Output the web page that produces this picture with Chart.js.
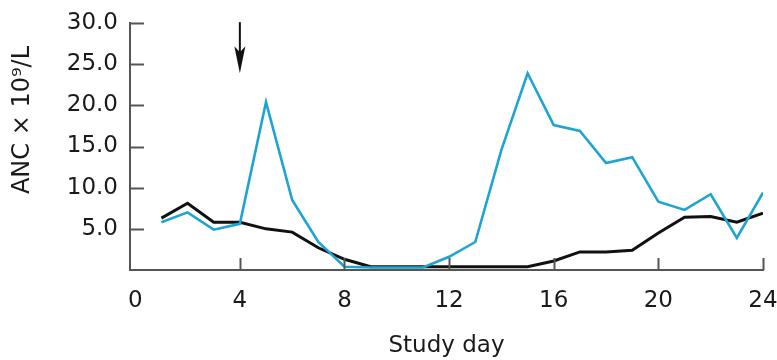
<!DOCTYPE html>
<html>
<head>
<meta charset="utf-8">
<script src="https://cdn.jsdelivr.net/npm/chart.js@4.4.1/dist/chart.umd.min.js"></script>
<style>
  html, body { margin: 0; padding: 0; background: #fff; overflow: hidden; }
  canvas { display: block; }
</style>
</head>
<body>
<canvas id="ancChart" width="777" height="360"></canvas>
<script>
// Study days and ANC values (x 10^9/L)
const days = [1, 2, 3, 4, 5, 6, 7, 8, 9, 10, 11, 12, 13, 14, 15, 16, 17, 18, 19, 20, 21, 22, 23, 24];
const blueAnc = [5.8, 7.0, 4.9, 5.6, 20.4, 8.5, 3.4, 0.4, 0.3, 0.3, 0.3, 1.6, 3.4, 14.6, 23.9, 17.6, 16.9, 13.0, 13.7, 8.3, 7.3, 9.2, 3.9, 9.4];
const blackAnc = [6.3, 8.1, 5.8, 5.8, 5.0, 4.6, 2.7, 1.3, 0.4, 0.4, 0.4, 0.4, 0.4, 0.4, 0.4, 1.1, 2.2, 2.2, 2.4, 4.5, 6.4, 6.5, 5.8, 6.9];

const xTicks = [0, 4, 8, 12, 16, 20, 24];
const yTicks = [5, 10, 15, 20, 25, 30];

// arrow marking day 4
const arrowDay = 4;
const arrowFrom = 30.1;
const arrowTo = 23.9;

const FONT = "'DejaVu Sans', 'Liberation Sans', Arial, sans-serif";
const INK = '#1a1a1a';
const AXIS = '#555';

const toPoints = vals => vals.map((v, i) => ({ x: days[i], y: v }));

// inward tick marks, arrow and rotated y title
const extras = {
    id: 'extras',
    afterDraw(chart) {
        const { ctx, chartArea: a, scales: { x, y } } = chart;
        ctx.save();
        ctx.strokeStyle = AXIS;
        ctx.lineWidth = 2;
        yTicks.forEach(v => {
            const py = Math.round(y.getPixelForValue(v)) + 0.5;
            ctx.beginPath();
            ctx.moveTo(a.left, py);
            ctx.lineTo(a.left + 14, py);
            ctx.stroke();
        });
        xTicks.slice(1).forEach(v => {
            const px = Math.round(x.getPixelForValue(v)) + 0.5;
            ctx.beginPath();
            ctx.moveTo(px, a.bottom);
            ctx.lineTo(px, a.bottom - 12);
            ctx.stroke();
        });

        // arrow
        const ax = x.getPixelForValue(arrowDay);
        const top = y.getPixelForValue(arrowFrom);
        const tip = y.getPixelForValue(arrowTo);
        ctx.strokeStyle = '#111';
        ctx.fillStyle = '#111';
        ctx.lineWidth = 2;
        ctx.beginPath();
        ctx.moveTo(ax, top);
        ctx.lineTo(ax, tip - 18);
        ctx.stroke();
        ctx.beginPath();
        ctx.moveTo(ax, tip);
        ctx.lineTo(ax - 5.5, tip - 27);
        ctx.lineTo(ax, tip - 21);
        ctx.lineTo(ax + 5.5, tip - 27);
        ctx.closePath();
        ctx.fill();

        // y axis title
        ctx.translate(23, 120);
        ctx.rotate(-Math.PI / 2);
        ctx.fillStyle = INK;
        ctx.font = '24px ' + FONT;
        ctx.textAlign = 'center';
        ctx.textBaseline = 'middle';
        ctx.fillText('ANC \u00d7 10\u2079/L', 0, 0);
        ctx.restore();
    }
};

new Chart(document.getElementById('ancChart').getContext('2d'), {
    type: 'line',
    data: {
        datasets: [
            { label: 'ANC A', data: toPoints(blueAnc), borderColor: '#1ea4d2', borderWidth: 2.6, pointRadius: 0, tension: 0, fill: false },
            { label: 'ANC B', data: toPoints(blackAnc), borderColor: '#111', borderWidth: 3, pointRadius: 0, tension: 0, fill: false }
        ]
    },
    options: {
        responsive: false,
        animation: false,
        layout: { padding: { top: 23, right: 14, left: 0, bottom: 0 } },
        plugins: { legend: { display: false }, tooltip: { enabled: false } },
        scales: {
            x: {
                type: 'linear',
                min: -0.2,
                max: 24,
                afterBuildTicks: s => { s.ticks = xTicks.map(v => ({ value: v })); },
                afterFit: s => { s.height = 90; s.paddingLeft = 0; s.paddingRight = 0; },
                grid: { display: false },
                border: { display: true, color: AXIS, width: 2 },
                ticks: { color: INK, font: { family: FONT, size: 23 }, padding: 9, maxRotation: 0, autoSkip: false },
                title: { display: true, text: 'Study day', color: INK, font: { family: FONT, size: 23 }, padding: { top: 0, bottom: 0 } }
            },
            y: {
                min: 0,
                max: 30,
                afterBuildTicks: s => { s.ticks = yTicks.map(v => ({ value: v })); },
                afterFit: s => { s.width = 130; s.paddingTop = 0; s.paddingBottom = 0; },
                grid: { display: false },
                border: { display: true, color: AXIS, width: 2 },
                ticks: { color: INK, font: { family: FONT, size: 23 }, padding: 4, autoSkip: false, callback: v => v.toFixed(1) }
            }
        }
    },
    plugins: [extras]
});
</script>
</body>
</html>
